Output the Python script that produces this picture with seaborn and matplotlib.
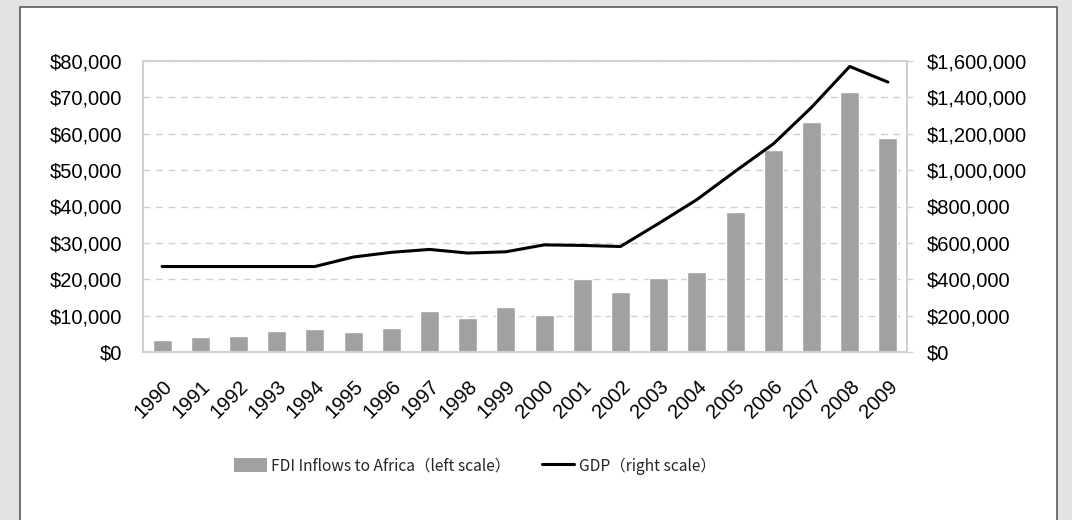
import numpy as np
import pandas as pd
import matplotlib
matplotlib.use("Agg")
import matplotlib.pyplot as plt
from matplotlib.patches import Rectangle
from matplotlib.ticker import FuncFormatter, MultipleLocator
from matplotlib.lines import Line2D
import seaborn as sns

years = [str(y) for y in range(1990, 2010)]
fdi = [3400, 4200, 4500, 5850, 6400, 5600, 6700, 11350, 9400, 12450,
       10250, 20100, 16550, 20400, 22100, 38550, 55600, 63300, 71500, 58900]
gdp = [470000, 470000, 470000, 470000, 470000, 522000, 548000, 564000, 544000, 551000,
       589000, 586000, 580000, 707000, 838000, 993000, 1144000, 1345000, 1570000, 1484000]

fdi_label = "FDI Inflows to Africa（left scale）"
gdp_label = "GDP（right scale）"

bar_color = "#a0a1a0"
grid_color = "#d0d0d0"
label_font = ["Liberation Sans", "DejaVu Sans"]
legend_font = ["Noto Sans CJK JP", "DejaVu Sans"]

df = pd.DataFrame({"year": years, "fdi": fdi, "gdp": gdp})

sns.set_theme(style="white")
plt.rcParams["font.family"] = label_font

fig = plt.figure(figsize=(10.72, 5.2), dpi=100)
fig.patch.set_facecolor("#e3e3e3")

# white panel behind the chart
panel = Rectangle((20 / 1072, -0.05), (1057 - 20) / 1072, 1.05 - 7 / 520,
                  transform=fig.transFigure, facecolor="white",
                  edgecolor="#5a5a5a", linewidth=1.2, zorder=-10)
fig.patches.append(panel)

ax = fig.add_axes([143 / 1072, 1 - 352 / 520, (907 - 143) / 1072, (352 - 61) / 520])
ax.set_facecolor("white")

sns.barplot(data=df, x="year", y="fdi", color=bar_color, width=0.5,
            saturation=1, ax=ax, zorder=2)
ax.set_ylim(0, 80000)
ax.set_xlim(-0.5, len(years) - 0.5)
ax.yaxis.set_major_locator(MultipleLocator(10000))
ax.yaxis.set_major_formatter(FuncFormatter(lambda v, p: f"${v:,.0f}"))
ax.grid(axis="y", color=grid_color, linestyle=(0, (5, 4)), linewidth=1.0, zorder=0)
ax.set_axisbelow(True)
ax.set_xlabel("")
ax.set_ylabel("")
for s in ax.spines.values():
    s.set_color(grid_color)
    s.set_linewidth(1.2)
ax.tick_params(axis="y", length=0, pad=15, labelsize=14.5, colors="black")
ax.tick_params(axis="x", length=0, pad=18, labelsize=14.5, colors="black")
for lbl in ax.get_xticklabels():
    lbl.set_rotation(45)
    lbl.set_ha("right")
    lbl.set_rotation_mode("anchor")

ax2 = ax.twinx()
sns.lineplot(data=df, x="year", y="gdp", color="black", linewidth=2.2,
             sort=False, ax=ax2)
ax2.set_ylim(0, 1600000)
ax2.set_xlim(-0.5, len(years) - 0.5)
ax2.yaxis.set_major_locator(MultipleLocator(200000))
ax2.yaxis.set_major_formatter(FuncFormatter(lambda v, p: f"${v:,.0f}"))
ax2.set_ylabel("")
for s in ax2.spines.values():
    s.set_color(grid_color)
    s.set_linewidth(1.2)
ax2.tick_params(axis="y", length=4, width=1, color=grid_color, pad=10,
                labelsize=14.5, labelcolor="black", direction="out", right=True)

handles = [Rectangle((0, 0), 1, 1, facecolor=bar_color, edgecolor="none"),
           Line2D([0], [0], color="black", linewidth=2.2)]
fig.legend(handles, [fdi_label, gdp_label], loc="center", bbox_to_anchor=(0.443, 0.104),
           ncol=2, frameon=False, prop={"family": legend_font, "size": 11.2},
           handlelength=2.1, handleheight=1.0, handletextpad=0.3, columnspacing=2.0)

fig.savefig("out.png", dpi=100, facecolor=fig.get_facecolor())
